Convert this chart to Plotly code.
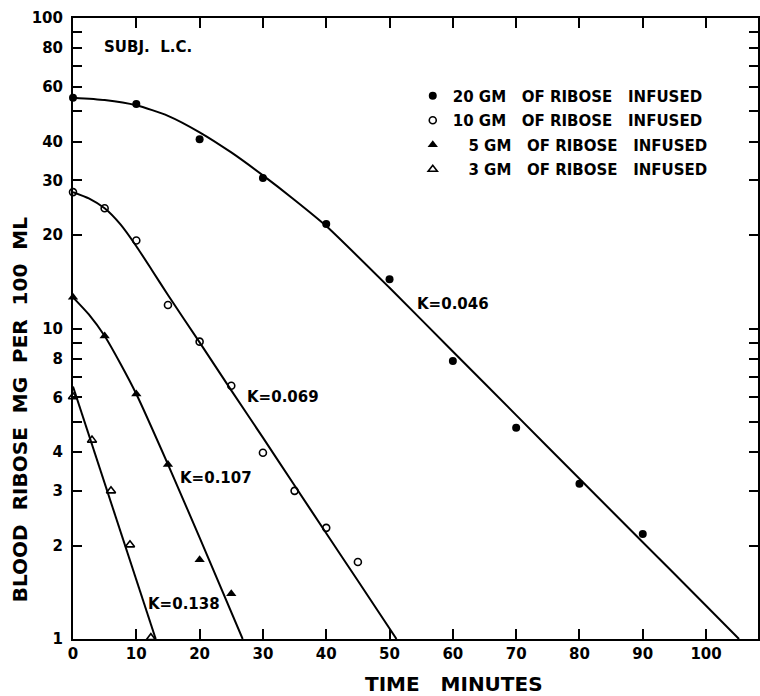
import plotly.graph_objects as go

# ---- data ----
# 20 GM ribose (filled circles)
t20 = [0, 10, 20, 30, 40, 50, 60, 70, 80, 90]
v20 = [55.4, 52.8, 40.7, 30.5, 21.7, 14.4, 7.86, 4.79, 3.16, 2.18]
# 10 GM ribose (open circles)
t10 = [0, 5, 10, 15, 20, 25, 30, 35, 40, 45]
v10 = [27.5, 24.4, 19.2, 11.9, 9.07, 6.54, 3.98, 3.0, 2.28, 1.77]
# 5 GM ribose (filled triangles)
t5 = [0, 5, 10, 15, 20, 25]
v5 = [12.6, 9.46, 6.15, 3.65, 1.80, 1.40]
# 3 GM ribose (open triangles)
t3 = [0, 3, 6, 9, 12.3]
v3 = [6.03, 4.37, 3.0, 2.01, 1.01]

# fitted curves
ct20 = [0, 5, 10, 15, 20, 25, 30, 35, 40, 50, 60, 70, 80, 90, 100, 105.2]
cv20 = [55.4, 54.45, 52.36, 48.42, 42.85, 36.9, 31.12, 25.94, 21.38, 13.52, 8.43, 5.26, 3.28, 2.05, 1.28, 1.0]
ct10 = [0, 2.5, 5, 7.5, 10, 12.5, 15, 20, 25, 30, 35, 40, 45, 51.1]
cv10 = [27.5, 26.24, 24.38, 21.63, 18.41, 15.38, 12.82, 9.02, 6.32, 4.45, 3.12, 2.19, 1.54, 1.0]
ct5 = [0, 2.5, 5, 7.5, 10, 15, 20, 26.8]
cv5 = [12.6, 11.1, 9.46, 7.7, 6.15, 3.65, 2.12, 1.0]
ct3 = [0, 13.07]
cv3 = [6.5, 1.0]

legend_names = [
    "20 GM\u00a0\u00a0\u00a0OF\u00a0RIBOSE\u00a0\u00a0\u00a0INFUSED",
    "10 GM\u00a0\u00a0\u00a0OF\u00a0RIBOSE\u00a0\u00a0\u00a0INFUSED",
    "\u2007\u00a05 GM\u00a0\u00a0\u00a0OF\u00a0RIBOSE\u00a0\u00a0\u00a0INFUSED",
    "\u2007\u00a03 GM\u00a0\u00a0\u00a0OF\u00a0RIBOSE\u00a0\u00a0\u00a0INFUSED",
]
k_labels = ["K=0.046", "K=0.069", "K=0.107", "K=0.138"]

x_tickvals = [0, 10, 20, 30, 40, 50, 60, 70, 80, 90, 100]
x_ticktext = ["0", "10", "20", "30", "40", "50", "60", "70", "80", "90", "100"]
y_tickvals = [1, 2, 3, 4, 5, 6, 7, 8, 9, 10, 20, 30, 40, 50, 60, 70, 80, 90, 100]
y_ticktext = ["1", "2", "3", "4", "", "6", "", "8", "", "10",
              "20", "30", "40", "", "60", "", "80", "", "100"]

FONT = "DejaVu Sans"

fig = go.Figure()

# curves
for ct, cv in [(ct20, cv20), (ct10, cv10), (ct5, cv5), (ct3, cv3)]:
    fig.add_trace(go.Scatter(x=ct, y=cv, mode="lines",
                             line=dict(color="black", width=2, shape="spline", smoothing=0.6),
                             showlegend=False, hoverinfo="skip"))

series = [
    (t20, v20, "circle", 8, 0),
    (t10, v10, "circle-open", 7, 1.6),
    (t5, v5, "triangle-up", 9, 0),
    (t3, v3, "triangle-up-open", 8, 1.6),
]
for i, (tt, vv, sym, sz, lw) in enumerate(series):
    fig.add_trace(go.Scatter(
        x=tt, y=vv, mode="markers", name=legend_names[i], legendgroup=f"g{i}",
        marker=dict(symbol=sym, size=sz, color="black",
                    line=dict(color="black", width=lw)),
        cliponaxis=False))

def px2paper(px, py):
    return (px - 73) / 687.0, (639 - py) / 621.0

annos = []
def add_text(text, px, py, size=15, angle=0):
    xp, yp = px2paper(px, py)
    annos.append(dict(text=text, x=xp, y=yp, xref="paper", yref="paper",
                      showarrow=False, textangle=angle,
                      font=dict(family=FONT, size=size, color="black", weight="bold"),
                      xanchor="center", yanchor="middle"))

add_text("SUBJ.\u00a0\u00a0L.C.", 148, 47)
add_text(k_labels[0], 454, 304)
add_text(k_labels[1], 284, 397)
add_text(k_labels[2], 216, 478)
add_text(k_labels[3], 184, 604)
add_text("BLOOD\u00a0\u00a0RIBOSE\u00a0\u00a0MG\u00a0\u00a0PER\u00a0\u00a0100\u00a0\u00a0ML", 20, 410, size=20, angle=-90)
add_text("TIME\u00a0\u00a0\u00a0MINUTES", 455, 684, size=20)

axis_common = dict(showline=True, linewidth=2, linecolor="black", mirror="ticks",
                   ticks="inside", tickwidth=2, tickcolor="black",
                   showgrid=False, zeroline=False,
                   tickfont=dict(family=FONT, size=15, color="black", weight="bold"))

fig.update_layout(
    width=760, height=696,
    margin=dict(l=73, r=0, t=18, b=57),
    paper_bgcolor="white", plot_bgcolor="white",
    font=dict(family=FONT, color="black", weight="bold"),
    xaxis=dict(range=[0, 108.2], tickmode="array", tickvals=x_tickvals,
               ticktext=x_ticktext, ticklen=10, **axis_common),
    yaxis=dict(type="log", range=[0, 2], tickmode="array", tickvals=y_tickvals,
               ticktext=y_ticktext, ticklen=9, ticklabelstandoff=5, **axis_common),
    legend=dict(x=0.496, y=0.901, xanchor="left", yanchor="top",
                bgcolor="rgba(0,0,0,0)", traceorder="grouped", tracegroupgap=2,
                font=dict(family=FONT, size=15, color="black", weight="bold")),
    annotations=annos,
    showlegend=True,
)

fig.write_html("out.html")
